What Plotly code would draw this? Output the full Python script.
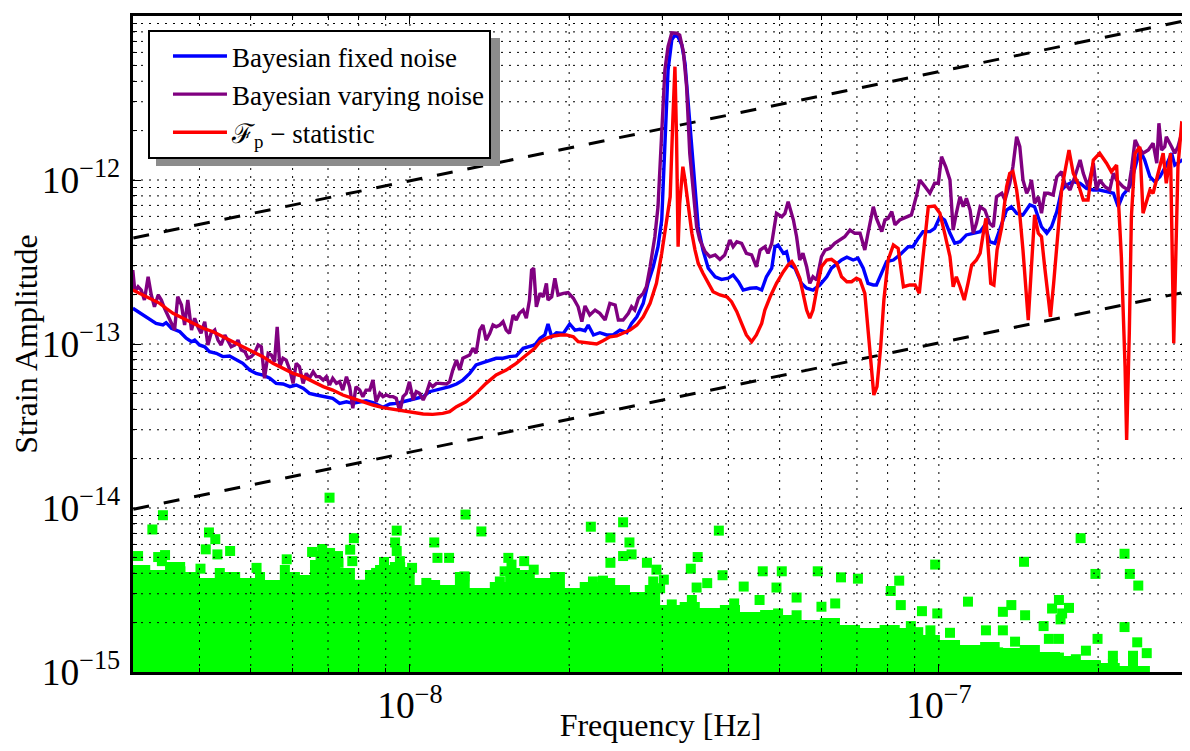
import plotly.graph_objects as go

# ---------------- data (log10 values) ----------------
# Bayesian fixed noise
fixed_logf = [
    -8.524, -8.511, -8.495, -8.480, -8.467, -8.461, -8.451, -8.435, -8.423, -8.413,
    -8.407, -8.398, -8.388, -8.379, -8.366, -8.354, -8.341, -8.328, -8.316, -8.303,
    -8.291, -8.278, -8.265, -8.253, -8.240, -8.227, -8.215, -8.202, -8.190, -8.177,
    -8.158, -8.146, -8.133, -8.120, -8.108, -8.095, -8.083, -8.070, -8.051, -8.038,
    -8.026, -8.013, -8.001, -7.988, -7.975, -7.963, -7.950, -7.938, -7.925, -7.912,
    -7.900, -7.887, -7.875, -7.862, -7.849, -7.837, -7.824, -7.812, -7.799, -7.786,
    -7.764, -7.754, -7.745, -7.739, -7.732, -7.723, -7.710, -7.698, -7.688, -7.679,
    -7.669, -7.663, -7.653, -7.641, -7.628, -7.616, -7.603, -7.590, -7.581, -7.571,
    -7.559, -7.550, -7.540, -7.531, -7.524, -7.518, -7.512, -7.505, -7.499, -7.493,
    -7.486, -7.480, -7.474, -7.467, -7.461, -7.455, -7.446, -7.436, -7.423, -7.411,
    -7.398, -7.389, -7.379, -7.370, -7.357, -7.345, -7.335, -7.326, -7.316, -7.310,
    -7.304, -7.294, -7.288, -7.282, -7.272, -7.260, -7.250, -7.238, -7.225, -7.212,
    -7.203, -7.193, -7.184, -7.174, -7.162, -7.153, -7.143, -7.134, -7.124, -7.118,
    -7.108, -7.099, -7.086, -7.074, -7.058, -7.049, -7.039, -7.030, -7.017, -7.008,
    -6.998, -6.989, -6.979, -6.970, -6.960, -6.948, -6.935, -6.922, -6.913, -6.904,
    -6.894, -6.885, -6.872, -6.863, -6.853, -6.841, -6.828, -6.819, -6.806, -6.796,
    -6.787, -6.777, -6.768, -6.759, -6.746, -6.733, -6.721, -6.708, -6.696, -6.683,
    -6.670, -6.661, -6.652, -6.639, -6.626, -6.620, -6.611, -6.601, -6.592, -6.582,
    -6.570, -6.560, -6.554, -6.544, -6.535, -6.526,
]
fixed_logh = [
    -12.782, -12.809, -12.843, -12.874, -12.884, -12.870, -12.904, -12.925, -12.965, -12.986,
    -12.976, -13.006, -13.017, -13.047, -13.057, -13.077, -13.073, -13.098, -13.118, -13.159,
    -13.179, -13.189, -13.209, -13.240, -13.244, -13.260, -13.250, -13.270, -13.301, -13.311,
    -13.321, -13.331, -13.362, -13.352, -13.362, -13.352, -13.346, -13.358, -13.386, -13.366,
    -13.362, -13.352, -13.341, -13.331, -13.321, -13.291, -13.281, -13.270, -13.260, -13.244,
    -13.220, -13.179, -13.128, -13.114, -13.098, -13.087, -13.087, -13.077, -13.073, -13.026,
    -13.006, -12.965, -12.945, -12.878, -12.956, -12.931, -12.935, -12.878, -12.915, -12.910,
    -12.919, -12.884, -12.945, -12.931, -12.945, -12.945, -12.915, -12.931, -12.874, -12.834,
    -12.752, -12.630, -12.529, -12.407, -12.244, -11.837, -11.329, -11.146, -11.116, -11.128,
    -11.177, -11.288, -11.532, -11.837, -12.081, -12.285, -12.427, -12.538, -12.590, -12.606,
    -12.599, -12.579, -12.620, -12.671, -12.660, -12.657, -12.671, -12.590, -12.538, -12.407,
    -12.396, -12.447, -12.437, -12.518, -12.538, -12.630, -12.660, -12.671, -12.640, -12.590,
    -12.538, -12.508, -12.488, -12.471, -12.488, -12.477, -12.538, -12.630, -12.640, -12.640,
    -12.569, -12.498, -12.488, -12.457, -12.407, -12.407, -12.355, -12.315, -12.315, -12.295,
    -12.224, -12.244, -12.325, -12.386, -12.376, -12.335, -12.325, -12.315, -12.274, -12.376,
    -12.386, -12.305, -12.183, -12.163, -12.203, -12.213, -12.152, -12.163, -12.285, -12.325,
    -12.285, -12.193, -12.061, -12.031, -12.010, -12.020, -12.051, -12.061, -12.061, -12.071,
    -12.081, -12.163, -12.091, -12.041, -11.878, -11.817, -11.878, -11.980, -12.010, -11.980,
    -11.909, -11.837, -11.909, -11.888, -11.868, -11.858,
]

# Bayesian varying noise
varying_logf = [
    -8.524, -8.520, -8.514, -8.508, -8.502, -8.495, -8.489, -8.483, -8.476, -8.470,
    -8.464, -8.457, -8.451, -8.445, -8.439, -8.432, -8.426, -8.420, -8.413, -8.407,
    -8.401, -8.395, -8.388, -8.382, -8.376, -8.369, -8.363, -8.357, -8.350, -8.344,
    -8.338, -8.331, -8.325, -8.319, -8.312, -8.306, -8.300, -8.294, -8.287, -8.281,
    -8.275, -8.268, -8.262, -8.256, -8.251, -8.246, -8.240, -8.234, -8.227, -8.221,
    -8.215, -8.209, -8.202, -8.196, -8.190, -8.183, -8.177, -8.171, -8.164, -8.158,
    -8.152, -8.146, -8.139, -8.133, -8.127, -8.120, -8.114, -8.108, -8.102, -8.095,
    -8.089, -8.083, -8.076, -8.070, -8.064, -8.057, -8.051, -8.045, -8.038, -8.032,
    -8.026, -8.019, -8.013, -8.007, -8.001, -7.994, -7.988, -7.982, -7.975, -7.969,
    -7.963, -7.957, -7.950, -7.944, -7.938, -7.931, -7.925, -7.919, -7.912, -7.906,
    -7.900, -7.894, -7.887, -7.881, -7.875, -7.868, -7.862, -7.856, -7.849, -7.843,
    -7.837, -7.830, -7.824, -7.818, -7.812, -7.805, -7.799, -7.793, -7.786, -7.780,
    -7.774, -7.770, -7.766, -7.761, -7.754, -7.748, -7.742, -7.739, -7.732, -7.726,
    -7.720, -7.710, -7.701, -7.691, -7.682, -7.675, -7.669, -7.660, -7.650, -7.641,
    -7.631, -7.622, -7.612, -7.606, -7.597, -7.587, -7.581, -7.575, -7.568, -7.559,
    -7.553, -7.546, -7.537, -7.531, -7.524, -7.518, -7.512, -7.505, -7.496, -7.490,
    -7.483, -7.477, -7.471, -7.464, -7.458, -7.452, -7.442, -7.433, -7.423, -7.414,
    -7.405, -7.395, -7.389, -7.382, -7.373, -7.364, -7.354, -7.345, -7.338, -7.329,
    -7.323, -7.316, -7.307, -7.297, -7.291, -7.285, -7.275, -7.269, -7.263, -7.257,
    -7.250, -7.244, -7.238, -7.231, -7.222, -7.215, -7.206, -7.197, -7.187, -7.178,
    -7.168, -7.159, -7.149, -7.140, -7.134, -7.124, -7.118, -7.108, -7.102, -7.096,
    -7.089, -7.083, -7.074, -7.061, -7.052, -7.042, -7.036, -7.026, -7.017, -7.008,
    -7.001, -6.995, -6.987, -6.979, -6.973, -6.967, -6.960, -6.954, -6.948, -6.941,
    -6.935, -6.929, -6.922, -6.913, -6.904, -6.897, -6.891, -6.881, -6.875, -6.866,
    -6.860, -6.853, -6.847, -6.841, -6.834, -6.828, -6.825, -6.819, -6.812, -6.806,
    -6.800, -6.793, -6.784, -6.777, -6.768, -6.762, -6.752, -6.743, -6.733, -6.727,
    -6.718, -6.708, -6.702, -6.696, -6.686, -6.677, -6.670, -6.664, -6.652, -6.642,
    -6.636, -6.629, -6.623, -6.614, -6.604, -6.595, -6.588, -6.584, -6.579, -6.573,
    -6.570, -6.560, -6.554, -6.548, -6.541, -6.535, -6.526,
]
varying_logh = [
    -12.549, -12.681, -12.651, -12.671, -12.732, -12.590, -12.701, -12.773, -12.701, -12.732,
    -12.782, -12.834, -12.874, -12.915, -12.712, -12.762, -12.884, -12.732, -12.915, -12.843,
    -12.895, -12.935, -12.864, -13.006, -12.935, -12.915, -12.976, -13.006, -12.945, -12.986,
    -13.017, -13.006, -12.976, -13.037, -13.047, -13.087, -13.077, -13.057, -13.006, -13.017,
    -13.209, -13.057, -13.067, -13.108, -12.895, -13.138, -13.087, -13.098, -13.159, -13.240,
    -13.118, -13.138, -13.240, -13.179, -13.209, -13.169, -13.199, -13.199, -13.220, -13.199,
    -13.250, -13.209, -13.240, -13.230, -13.281, -13.199, -13.260, -13.392, -13.260, -13.281,
    -13.321, -13.281, -13.281, -13.220, -13.352, -13.301, -13.321, -13.311, -13.321, -13.321,
    -13.331, -13.413, -13.321, -13.301, -13.230, -13.341, -13.291, -13.301, -13.341, -13.301,
    -13.240, -13.260, -13.240, -13.240, -13.240, -13.244, -13.230, -13.159, -13.098, -13.159,
    -13.087, -13.077, -13.067, -13.026, -13.057, -12.915, -12.884, -12.976, -12.935, -12.884,
    -12.895, -12.884, -12.864, -12.915, -12.935, -12.823, -12.854, -12.813, -12.793, -12.843,
    -12.732, -12.549, -12.538, -12.773, -12.691, -12.712, -12.630, -12.732, -12.712, -12.599,
    -12.701, -12.691, -12.687, -12.721, -12.773, -12.864, -12.768, -12.823, -12.793, -12.813,
    -12.854, -12.752, -12.762, -12.854, -12.854, -12.813, -12.773, -12.793, -12.721, -12.691,
    -12.651, -12.529, -12.346, -12.163, -11.736, -11.329, -11.187, -11.102, -11.105, -11.116,
    -11.218, -11.431, -11.837, -12.102, -12.285, -12.366, -12.437, -12.468, -12.457, -12.484,
    -12.457, -12.366, -12.407, -12.376, -12.386, -12.447, -12.457, -12.529, -12.427, -12.407,
    -12.447, -12.386, -12.203, -12.224, -12.203, -12.132, -12.244, -12.346, -12.488, -12.447,
    -12.529, -12.630, -12.590, -12.610, -12.468, -12.427, -12.417, -12.386, -12.366, -12.346,
    -12.305, -12.325, -12.325, -12.427, -12.325, -12.163, -12.234, -12.315, -12.244, -12.234,
    -12.193, -12.274, -12.244, -12.224, -12.213, -12.091, -12.000, -12.041, -12.081, -12.020,
    -12.020, -11.858, -11.919, -12.000, -12.305, -12.203, -12.102, -12.163, -12.112, -12.183,
    -12.325, -12.264, -12.163, -12.183, -12.264, -12.285, -12.102, -12.081, -12.122, -12.020,
    -11.919, -11.736, -11.797, -12.000, -12.081, -12.041, -12.000, -12.142, -12.102, -12.203,
    -12.081, -12.081, -12.091, -11.980, -11.949, -12.020, -12.061, -11.980, -11.878, -11.959,
    -12.041, -11.898, -12.061, -12.000, -12.041, -12.061, -11.959, -12.000, -12.041, -12.061,
    -11.939, -11.756, -11.797, -11.837, -11.817, -11.776, -11.898, -11.654, -11.817, -11.797,
    -11.736, -11.797, -11.837, -11.797, -11.715, -11.767, -11.756,
]

# F_p statistic
fstat_logf = [
    -8.524, -8.511, -8.499, -8.486, -8.473, -8.461, -8.448, -8.429, -8.410, -8.391,
    -8.372, -8.354, -8.335, -8.316, -8.297, -8.278, -8.259, -8.240, -8.221, -8.202,
    -8.183, -8.164, -8.146, -8.127, -8.108, -8.089, -8.070, -8.051, -8.032, -8.013,
    -7.994, -7.975, -7.957, -7.938, -7.925, -7.912, -7.894, -7.875, -7.856, -7.837,
    -7.818, -7.799, -7.780, -7.764, -7.754, -7.742, -7.729, -7.716, -7.704, -7.691,
    -7.682, -7.669, -7.657, -7.647, -7.635, -7.622, -7.609, -7.597, -7.584, -7.571,
    -7.559, -7.546, -7.534, -7.524, -7.515, -7.508, -7.503, -7.499, -7.496, -7.493,
    -7.490, -7.484, -7.480, -7.474, -7.467, -7.461, -7.455, -7.446, -7.436, -7.427,
    -7.414, -7.401, -7.392, -7.382, -7.373, -7.364, -7.354, -7.345, -7.335, -7.329,
    -7.319, -7.307, -7.294, -7.285, -7.278, -7.272, -7.263, -7.257, -7.250, -7.244,
    -7.238, -7.231, -7.222, -7.212, -7.203, -7.193, -7.184, -7.174, -7.165, -7.156,
    -7.149, -7.140, -7.134, -7.127, -7.123, -7.117, -7.110, -7.104, -7.096, -7.086,
    -7.077, -7.067, -7.055, -7.045, -7.037, -7.030, -7.020, -7.008, -6.998, -6.989,
    -6.979, -6.973, -6.967, -6.960, -6.952, -6.945, -6.938, -6.929, -6.922, -6.916,
    -6.911, -6.907, -6.902, -6.896, -6.890, -6.881, -6.872, -6.866, -6.860, -6.853,
    -6.847, -6.841, -6.836, -6.831, -6.825, -6.819, -6.812, -6.806, -6.800, -6.793,
    -6.789, -6.783, -6.774, -6.768, -6.760, -6.754, -6.746, -6.737, -6.727, -6.718,
    -6.708, -6.696, -6.683, -6.674, -6.664, -6.655, -6.648, -6.645, -6.640, -6.636,
    -6.629, -6.620, -6.614, -6.607, -6.601, -6.595, -6.585, -6.576, -6.570, -6.562,
    -6.556, -6.552, -6.548, -6.541, -6.532, -6.526,
]
fstat_logh = [
    -12.671, -12.691, -12.712, -12.732, -12.752, -12.782, -12.813, -12.843, -12.874, -12.904,
    -12.925, -12.956, -12.986, -13.017, -13.047, -13.077, -13.118, -13.148, -13.179, -13.199,
    -13.230, -13.260, -13.281, -13.311, -13.331, -13.352, -13.372, -13.388, -13.398, -13.409,
    -13.419, -13.427, -13.429, -13.423, -13.413, -13.382, -13.352, -13.301, -13.240, -13.189,
    -13.159, -13.118, -13.067, -13.026, -12.986, -12.965, -12.951, -12.945, -12.945, -12.956,
    -12.986, -12.992, -12.996, -13.000, -12.980, -12.956, -12.951, -12.935, -12.915, -12.884,
    -12.834, -12.752, -12.630, -12.447, -12.244, -12.102, -11.634, -11.309, -11.736, -12.407,
    -12.142, -11.919, -12.000, -12.163, -12.325, -12.427, -12.508, -12.569, -12.630, -12.681,
    -12.701, -12.712, -12.742, -12.803, -12.874, -12.945, -12.986, -12.945, -12.874, -12.793,
    -12.712, -12.630, -12.559, -12.518, -12.498, -12.529, -12.599, -12.691, -12.793, -12.843,
    -12.793, -12.671, -12.529, -12.488, -12.484, -12.508, -12.590, -12.620, -12.620, -12.599,
    -12.610, -12.691, -12.895, -13.138, -13.311, -13.260, -13.017, -12.732, -12.488, -12.396,
    -12.417, -12.651, -12.640, -12.640, -12.691, -12.468, -12.163, -12.159, -12.203, -12.325,
    -12.468, -12.651, -12.590, -12.651, -12.732, -12.630, -12.518, -12.488, -12.447, -12.325,
    -12.234, -12.407, -12.630, -12.640, -12.427, -12.285, -12.041, -11.959, -11.949, -12.061,
    -12.213, -12.427, -12.651, -12.854, -12.529, -12.213, -12.325, -12.346, -12.529, -12.732,
    -12.834, -12.630, -12.264, -12.061, -11.919, -11.817, -11.959, -12.020, -12.122, -12.122,
    -11.878, -11.837, -11.898, -11.949, -11.909, -12.468, -13.138, -13.585, -12.935, -12.224,
    -11.837, -11.797, -12.203, -12.122, -12.061, -12.081, -11.959, -11.837, -12.020, -11.837,
    -12.996, -12.325, -11.919, -11.654, -11.665, -11.675,
]

# Reference sensitivity lines (h ~ f^(2/3)), end points
ref_line_f = [3.0e-9, 2.96e-7]
upper_line_h = [4.43e-13, 9.44e-12]
lower_line_h = [9.82e-15, 2.09e-13]

# Dense cloud of green squares: upper envelope (step starts, log10)
band_logf = [
    -8.530, -8.491, -8.463, -8.425, -8.397, -8.369, -8.350, -8.321, -8.293, -8.274,
    -8.246, -8.227, -8.208, -8.189, -8.161, -8.132, -8.104, -8.085, -8.066, -8.038,
    -8.009, -7.991, -7.972, -7.943, -7.915, -7.887, -7.849, -7.820, -7.792, -7.764,
    -7.735, -7.707, -7.679, -7.641, -7.612, -7.584, -7.556, -7.527, -7.490, -7.452,
    -7.414, -7.376, -7.338, -7.301, -7.263, -7.225, -7.187, -7.149, -7.112, -7.074,
    -7.036, -6.998, -6.960, -6.922, -6.885, -6.847, -6.809, -6.771, -6.733, -6.696,
    -6.658, -6.601,
]
band_logh = [
    -14.348, -14.378, -14.329, -14.390, -14.427, -14.366, -14.390, -14.427, -14.390, -14.439,
    -14.348, -14.390, -14.409, -14.317, -14.305, -14.366, -14.439, -14.378, -14.348, -14.329,
    -14.390, -14.470, -14.439, -14.470, -14.390, -14.488, -14.451, -14.366, -14.378, -14.427,
    -14.390, -14.488, -14.451, -14.427, -14.470, -14.512, -14.470, -14.591, -14.573, -14.610,
    -14.591, -14.634, -14.622, -14.652, -14.683, -14.671, -14.713, -14.732, -14.713, -14.732,
    -14.774, -14.805, -14.835, -14.817, -14.854, -14.835, -14.878, -14.902, -14.927, -14.945,
    -14.963, -14.963,
]

# Individual green squares above the dense cloud (log10)
sq_logf = [
    -8.152, -8.467, -8.487, -8.380, -8.368, -8.386, -8.364, -8.340, -7.895, -7.865,
    -7.954, -7.948, -7.926, -8.106, -8.113, -8.109, -8.025, -8.028, -8.025, -8.019,
    -7.658, -7.597, -7.621, -7.585, -7.597, -7.581, -7.621, -7.552, -7.534, -8.233,
    -8.290, -7.814, -7.821, -7.784, -7.766, -7.722, -7.897, -7.969, -7.996, -8.169,
    -8.135, -8.469, -7.830, -7.654, -7.635, -8.094, -8.064,
    -8.514, -8.476, -8.463, -8.185, -8.166, -8.151, -8.136, -8.049, -8.034, -8.013,
    -7.808, -7.779, -7.667, -7.540, -7.527, -8.396, -8.434,
    -7.416, -6.732, -6.649, -6.839, -7.007, -7.456, -7.469, -7.409, -7.333, -7.297,
    -7.229, -7.185, -7.153, -6.704, -6.639, -6.623, -7.075, -7.091, -7.520, -7.438,
    -7.458, -7.369, -7.307, -7.269, -6.945, -6.773, -6.754, -6.863, -6.837, -6.879,
    -6.770, -6.802, -6.649, -7.072, -7.032, -7.003, -7.222, -7.196, -7.467, -7.505,
    -7.387, -7.339, -7.269, -7.304, -6.625, -6.700, -6.607, -6.671, -6.911, -6.879,
    -6.856, -6.792, -6.773, -6.722, -6.979, -7.016, -7.053, -7.039, -7.016, -6.633,
    -6.786, -6.767, -6.633, -6.703, -6.671, -6.965, -6.933, -6.888, -6.812, -6.773,
    -6.741, -6.722,
]
sq_logh = [
    -13.937, -14.044, -14.131, -14.149, -14.190, -14.252, -14.283, -14.262, -14.040, -14.143,
    -14.210, -14.304, -14.304, -14.184, -14.254, -14.324, -14.138, -14.210, -14.262, -14.324,
    -14.114, -14.087, -14.180, -14.210, -14.293, -14.283, -14.334, -14.334, -14.376, -14.313,
    -14.365, -14.304, -14.386, -14.324, -14.376, -14.431, -14.417, -14.457, -14.365, -14.293,
    -14.334, -14.324, -14.448, -14.448, -14.443, -14.468, -14.396,
    -14.293, -14.299, -14.287, -14.268, -14.250, -14.274, -14.293, -14.329, -14.378, -14.390,
    -14.345, -14.427, -14.488, -14.448, -14.489, -14.370, -14.386,
    -14.138, -14.184, -14.279, -14.328, -14.345, -14.299, -14.370, -14.410, -14.386, -14.386,
    -14.386, -14.423, -14.431, -14.402, -14.402, -14.473, -14.443, -14.506, -14.437, -14.458,
    -14.485, -14.479, -14.485, -14.546, -14.571, -14.561, -14.609, -14.592, -14.654, -14.633,
    -14.679, -14.720, -14.726, -14.592, -14.629, -14.643, -14.602, -14.582, -14.561, -14.588,
    -14.582, -14.561, -14.654, -14.643, -14.819, -14.798, -14.885, -14.901, -14.746, -14.746,
    -14.815, -14.798, -14.798, -14.870, -14.761, -14.891, -14.720, -14.757, -14.746, -14.957,
    -14.613, -14.643, -14.901, -14.959, -14.951, -14.982, -14.951, -14.880, -14.943, -14.912,
    -14.922, -14.963,
]

# Axis ranges (log10) and grid positions
x_range = [-8.5236, -6.529]
y_range = [-15.0, -11.0]
x_grid = [4e-9, 5e-9, 6e-9, 7e-9, 8e-9, 9e-9,
          1e-8, 2e-8, 3e-8, 4e-8, 5e-8, 6e-8, 7e-8, 8e-8, 9e-8,
          1e-7, 2e-7]
y_grid = [k * 10.0 ** d for d in (-15, -14, -13, -12) for k in range(1, 10)][1:]

assert len(fixed_logf) == len(fixed_logh)
assert len(varying_logf) == len(varying_logh)
assert len(fstat_logf) == len(fstat_logh)
assert len(band_logf) == len(band_logh)
assert len(sq_logf) == len(sq_logh)


def p10(values):
    return [10.0 ** v for v in values]


GREEN = "#00ff00"
fig = go.Figure()

# dense green cloud (stepped fill)
floor = 1e-16
bx = p10(band_logf) + [10.0 ** band_logf[-1], 10.0 ** band_logf[0]]
by = p10(band_logh) + [floor, floor]
fig.add_trace(go.Scatter(x=bx, y=by, mode="lines", fill="toself", fillcolor=GREEN,
                         line=dict(width=0, color=GREEN, shape="hv"),
                         hoverinfo="skip", showlegend=False))
# scattered green squares
fig.add_trace(go.Scatter(x=p10(sq_logf), y=p10(sq_logh), mode="markers",
                         marker=dict(symbol="square", size=10, color=GREEN, line=dict(width=0)),
                         hoverinfo="skip", showlegend=False))

# dotted grid drawn above the squares but below the curves
xl, xr = 10.0 ** x_range[0], 10.0 ** x_range[1]
yb, yt = 10.0 ** y_range[0], 10.0 ** y_range[1]
gx, gy = [], []
for v in x_grid:
    gx += [v, v, None]
    gy += [yt, yb, None]
for v in y_grid:
    gx += [xl, xr, None]
    gy += [v, v, None]
fig.add_trace(go.Scatter(x=gx, y=gy, mode="lines",
                         line=dict(color="black", width=1, dash="2px,6px"),
                         hoverinfo="skip", showlegend=False))

# reference dashed lines
for hh in (upper_line_h, lower_line_h):
    fig.add_trace(go.Scatter(x=ref_line_f, y=hh, mode="lines",
                             line=dict(color="black", width=3, dash="16px,15px"),
                             hoverinfo="skip", showlegend=False))

fig.add_trace(go.Scatter(x=p10(fixed_logf), y=p10(fixed_logh), mode="lines",
                         name="Bayesian fixed noise", line=dict(color="#0000ff", width=3.4)))
fig.add_trace(go.Scatter(x=p10(varying_logf), y=p10(varying_logh), mode="lines",
                         name="Bayesian varying noise", line=dict(color="#800080", width=3.4)))
fig.add_trace(go.Scatter(x=p10(fstat_logf), y=p10(fstat_logh), mode="lines",
                         name="ℱ<sub>p</sub> − statistic", line=dict(color="#ff0000", width=3.4)))

axis_common = dict(
    type="log", showline=True, linecolor="black", linewidth=2.5, mirror="allticks",
    ticks="inside", ticklen=8, tickwidth=1, tickcolor="black", dtick=1,
    exponentformat="power", showgrid=False, zeroline=False,
    tickfont=dict(size=30, color="black"),
    minor=dict(ticks="inside", ticklen=4, tickwidth=1, tickcolor="black",
               dtick="D1", showgrid=False),
)

# legend drop shadow (page pixels -> paper fractions of the 1055x656 plot area)
shadow = dict(left=156, right=500, top=38, bottom=166)

# the page places the figure 8px from its top-left corner
fig.update_layout(
    width=1182, height=735,
    margin=dict(l=125, r=2, t=8, b=71, autoexpand=False),
    paper_bgcolor="white", plot_bgcolor="white",
    font=dict(family="Liberation Serif, DejaVu Serif, serif", color="black", size=30),
    legend=dict(x=0.0142, y=0.9787, xanchor="left", yanchor="top",
                bgcolor="white", bordercolor="black", borderwidth=2,
                font=dict(size=27), itemwidth=54, indentation=18, tracegroupgap=0),
    xaxis=dict(axis_common, range=x_range,
               title=dict(text="Frequency [Hz]", font=dict(size=32), standoff=0)),
    yaxis=dict(axis_common, range=y_range, ticklabelstandoff=4,
               title=dict(text="Strain Amplitude", font=dict(size=32), standoff=10)),
    shapes=[dict(type="rect", xref="paper", yref="paper", layer="above",
                 x0=(shadow["left"] - 133) / 1055, x1=(shadow["right"] - 133) / 1055,
                 y0=(672 - shadow["bottom"]) / 656, y1=(672 - shadow["top"]) / 656,
                 fillcolor="#8c8c8c", line=dict(width=0))],
)

fig.write_html("out.html")
